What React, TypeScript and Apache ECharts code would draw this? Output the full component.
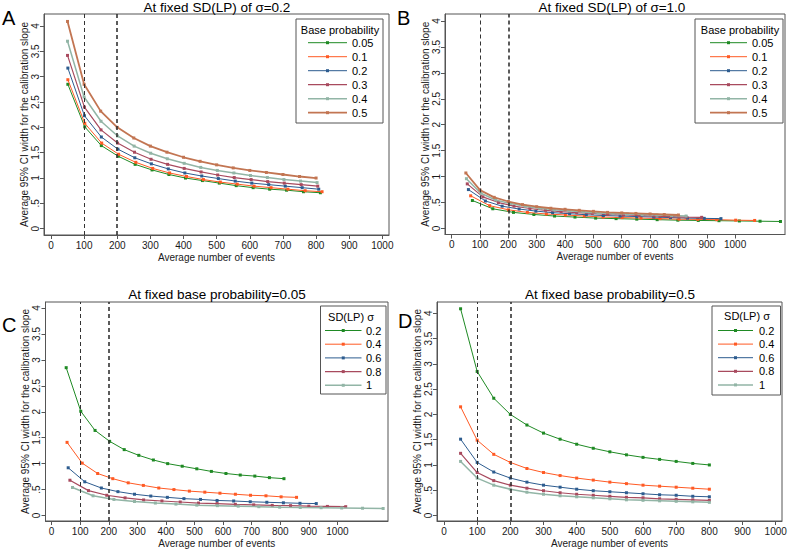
import React, { useEffect, useRef } from "react";
import * as echarts from "echarts";

// ---------- tick values ----------
const xTickValues = [0, 100, 200, 300, 400, 500, 600, 700, 800, 900, 1000];
const yTickValues = [0, 0.5, 1, 1.5, 2, 2.5, 3, 3.5, 4];

// ---------- legend categories ----------
const baseProbLabels = ["0.05", "0.1", "0.2", "0.3", "0.4", "0.5"];
const sdLabels = ["0.2", "0.4", "0.6", "0.8", "1"];

// ---------- average number of events (x values) ----------
// sigma = 0.2
const evS02P005 = [51, 102, 152, 203, 254, 305, 356, 406, 457, 508, 559, 610, 660, 711, 762, 813];
const evS02P01 = [51, 102, 153, 204, 256, 307, 358, 409, 460, 511, 562, 613, 664, 715, 767, 818];
const evS02P02 = [51, 101, 152, 202, 253, 303, 354, 404, 455, 505, 556, 606, 657, 707, 758, 808];
const evS02P03 = [50, 101, 151, 201, 252, 302, 352, 402, 453, 503, 553, 604, 654, 704, 755, 805];
const evS02P04 = [50, 100, 151, 201, 251, 301, 351, 402, 452, 502, 552, 602, 653, 703, 753, 803];
const evP05 = [50, 100, 150, 200, 250, 300, 350, 400, 450, 500, 550, 600, 650, 700, 750, 800];
// sigma = 1.0
const evS1P005 = [73, 145, 218, 290, 363, 435, 508, 580, 653, 725, 798, 870, 943, 1015, 1088, 1160];
const evS1P01 = [67, 134, 200, 267, 334, 401, 468, 534, 601, 668, 735, 802, 868, 935, 1002, 1069];
const evS1P02 = [59, 119, 178, 238, 297, 356, 416, 475, 535, 594, 653, 713, 772, 832, 891, 950];
const evS1P03 = [55, 110, 165, 220, 276, 331, 386, 441, 496, 551, 606, 661, 716, 771, 827, 882];
const evS1P04 = [52, 103, 155, 207, 259, 310, 362, 414, 465, 517, 569, 620, 672, 724, 776, 827];
// base probability 0.05, other sigmas
const evS04P005 = [54, 107, 161, 214, 268, 321, 375, 428, 482, 536, 589, 643, 696, 750, 803, 857];
const evS06P005 = [58, 116, 174, 232, 290, 347, 405, 463, 521, 579, 637, 695, 753, 811, 869, 926];
const evS08P005 = [64, 129, 193, 257, 322, 386, 450, 514, 579, 643, 707, 772, 836, 900, 965, 1029];

// ---------- average 95% CI width (y values) ----------
const wS02P005 = [2.85, 2.01, 1.64, 1.43, 1.27, 1.16, 1.07, 1.0, 0.95, 0.9, 0.85, 0.81, 0.78, 0.76, 0.73, 0.71];
const wS02P01 = [2.94, 2.08, 1.69, 1.47, 1.31, 1.19, 1.1, 1.03, 0.97, 0.92, 0.88, 0.84, 0.81, 0.78, 0.75, 0.73];
const wS02P02 = [3.17, 2.23, 1.81, 1.57, 1.4, 1.28, 1.18, 1.1, 1.04, 0.99, 0.94, 0.9, 0.87, 0.84, 0.81, 0.78];
const wS02P03 = [3.42, 2.4, 1.95, 1.69, 1.51, 1.37, 1.27, 1.19, 1.12, 1.06, 1.01, 0.97, 0.93, 0.9, 0.87, 0.84];
const wS02P04 = [3.7, 2.6, 2.12, 1.83, 1.63, 1.49, 1.38, 1.29, 1.21, 1.15, 1.1, 1.05, 1.01, 0.97, 0.94, 0.91];
const wS02P05 = [4.09, 2.85, 2.32, 2.0, 1.79, 1.63, 1.51, 1.41, 1.33, 1.26, 1.2, 1.15, 1.11, 1.07, 1.03, 1.0];

const wS1P005 = [0.54, 0.38, 0.31, 0.27, 0.24, 0.22, 0.2, 0.19, 0.18, 0.17, 0.16, 0.155, 0.15, 0.145, 0.14, 0.135];
const wS1P01 = [0.63, 0.44, 0.36, 0.31, 0.28, 0.26, 0.24, 0.22, 0.21, 0.2, 0.19, 0.18, 0.175, 0.17, 0.16, 0.155];
const wS1P02 = [0.75, 0.53, 0.43, 0.375, 0.335, 0.305, 0.285, 0.265, 0.25, 0.24, 0.23, 0.22, 0.21, 0.2, 0.195, 0.19];
const wS1P03 = [0.86, 0.61, 0.5, 0.43, 0.385, 0.35, 0.325, 0.305, 0.29, 0.27, 0.26, 0.25, 0.24, 0.23, 0.22, 0.215];
const wS1P04 = [0.96, 0.68, 0.55, 0.48, 0.43, 0.39, 0.36, 0.34, 0.32, 0.3, 0.29, 0.28, 0.27, 0.26, 0.25, 0.24];
const wS1P05 = [1.07, 0.74, 0.6, 0.52, 0.46, 0.42, 0.39, 0.37, 0.35, 0.33, 0.31, 0.3, 0.29, 0.28, 0.27, 0.26];

const wS04P005 = [1.41, 1.01, 0.81, 0.71, 0.63, 0.58, 0.53, 0.5, 0.47, 0.45, 0.43, 0.41, 0.39, 0.38, 0.36, 0.35];
const wS06P005 = [0.92, 0.65, 0.53, 0.46, 0.41, 0.375, 0.35, 0.325, 0.31, 0.29, 0.28, 0.265, 0.255, 0.245, 0.235, 0.23];
const wS08P005 = [0.68, 0.48, 0.39, 0.34, 0.3, 0.28, 0.26, 0.24, 0.23, 0.215, 0.205, 0.195, 0.19, 0.18, 0.175, 0.17];

const wS04P05 = [2.15, 1.49, 1.21, 1.05, 0.93, 0.85, 0.79, 0.74, 0.7, 0.66, 0.63, 0.6, 0.58, 0.56, 0.54, 0.52];
const wS06P05 = [1.51, 1.05, 0.86, 0.74, 0.66, 0.6, 0.56, 0.52, 0.49, 0.47, 0.45, 0.43, 0.41, 0.4, 0.38, 0.37];
const wS08P05 = [1.23, 0.85, 0.69, 0.6, 0.54, 0.49, 0.45, 0.42, 0.4, 0.38, 0.36, 0.35, 0.33, 0.32, 0.31, 0.3];

// ---------- panels ----------
const panelTitles = [
  "At fixed SD(LP) of σ=0.2",
  "At fixed SD(LP) of σ=1.0",
  "At fixed base probability=0.05",
  "At fixed base probability=0.5",
];
const panelLetters = ["A", "B", "C", "D"];
const legendTitles = ["Base probability", "Base probability", "SD(LP) σ", "SD(LP) σ"];

const panelSeries = [
  { labels: baseProbLabels, x: [evS02P005, evS02P01, evS02P02, evS02P03, evS02P04, evP05], y: [wS02P005, wS02P01, wS02P02, wS02P03, wS02P04, wS02P05] },
  { labels: baseProbLabels, x: [evS1P005, evS1P01, evS1P02, evS1P03, evS1P04, evP05], y: [wS1P005, wS1P01, wS1P02, wS1P03, wS1P04, wS1P05] },
  { labels: sdLabels, x: [evS02P005, evS04P005, evS06P005, evS08P005, evS1P005], y: [wS02P005, wS04P005, wS06P005, wS08P005, wS1P005] },
  { labels: sdLabels, x: [evP05, evP05, evP05, evP05, evP05], y: [wS02P05, wS04P05, wS06P05, wS08P05, wS1P05] },
];

// ---------- styling / layout ----------
const COLORS = ["#1f8a24", "#ff5a24", "#2d5c8f", "#a84a5e", "#92b5a6", "#c27552"];
const WIDTHS = [1, 1, 1, 1.2, 1.5, 1.8];
const FONT = "Liberation Sans";
const AXIS_COLOR = "#555";
const TEXT_COLOR = "#1a1a1a";

const layouts = [
  { grid: { left: 44, top: 14, width: 345, height: 221 }, xMin: -21, xMax: 1020, yMin: -0.124, yMax: 4.237,
    title: [217, 7], letter: [2, 18], legendBox: [296, 19, 87, 104], legendTitle: [340, 30], legendY0: 42.7, legendStep: 14, lineX: [308, 347], textX: 352 },
  { grid: { left: 445, top: 14, width: 340, height: 220.5 }, xMin: -23.6, xMax: 1176, yMin: -0.116, yMax: 4.135,
    title: [612, 7], letter: [397, 18], legendBox: [695, 19, 88, 104], legendTitle: [740, 30], legendY0: 42.7, legendStep: 14, lineX: [710, 747], textX: 752 },
  { grid: { left: 45.5, top: 302, width: 342.5, height: 219 }, xMin: -21.4, xMax: 1177, yMin: -0.106, yMax: 4.116,
    title: [217, 294], letter: [2, 325], legendBox: [320.5, 306, 65.5, 88], legendTitle: [351, 316.5], legendY0: 330.5, legendStep: 13.7, lineX: [325, 361.5], textX: 366 },
  { grid: { left: 437, top: 302, width: 345, height: 219 }, xMin: -21.1, xMax: 1019, yMin: -0.109, yMax: 4.224,
    title: [610, 294], letter: [398, 321], legendBox: [712, 306, 68.5, 89], legendTitle: [747, 316], legendY0: 330.5, legendStep: 13.6, lineX: [718, 753], textX: 759 },
];

const yLabelFmt = (v: number) => (v === 0 ? "0" : v < 1 ? String(v).replace(/^0/, "") : String(v));
const xLabelFmt = (v: number) => String(v);

function txt(text: string, x: number, y: number, size: number, align: string, z = 11) {
  return {
    type: "text", x, y, z,
    style: { text, fill: "#000", fontSize: size, fontFamily: FONT, fontWeight: "normal", align, verticalAlign: "middle" },
  };
}

function buildOption() {
  const grid: any[] = [];
  const xAxis: any[] = [];
  const yAxis: any[] = [];
  const series: any[] = [];
  const graphic: any[] = [];

  layouts.forEach((L, p) => {
    grid.push({ ...L.grid, show: true, borderColor: AXIS_COLOR, borderWidth: 1, backgroundColor: "#fff" });
    xAxis.push({
      gridIndex: p, type: "value", min: L.xMin, max: L.xMax,
      axisLine: { show: true, onZero: false, lineStyle: { color: AXIS_COLOR, width: 1 } },
      axisTick: { show: true, length: 4, customValues: xTickValues, lineStyle: { color: AXIS_COLOR } },
      axisLabel: { customValues: xTickValues, fontSize: 10, color: TEXT_COLOR, margin: 5, fontFamily: FONT, formatter: xLabelFmt },
      splitLine: { show: false },
      name: "Average number of events", nameLocation: "middle", nameGap: 17,
      nameTextStyle: { fontSize: 10, color: TEXT_COLOR, fontFamily: FONT },
    });
    yAxis.push({
      gridIndex: p, type: "value", min: L.yMin, max: L.yMax,
      axisLine: { show: true, onZero: false, lineStyle: { color: AXIS_COLOR, width: 1 } },
      axisTick: { show: true, length: 4, customValues: yTickValues, lineStyle: { color: AXIS_COLOR } },
      axisLabel: { customValues: yTickValues, rotate: 90, fontSize: 10, color: TEXT_COLOR, margin: 4, fontFamily: FONT, formatter: yLabelFmt },
      splitLine: { show: false },
      name: "Average 95% CI width for the calibration slope", nameLocation: "middle", nameRotate: 90, nameGap: 15,
      nameTextStyle: { fontSize: 10, color: TEXT_COLOR, fontFamily: FONT },
    });

    const S = panelSeries[p];
    S.labels.forEach((lab, i) => {
      const s: any = {
        type: "line", name: panelLetters[p] + "|" + lab, xAxisIndex: p, yAxisIndex: p,
        data: S.x[i].map((xv, k) => [xv, S.y[i][k]]),
        symbol: "rect", symbolSize: 3, showSymbol: true,
        lineStyle: { color: COLORS[i], width: WIDTHS[i] },
        itemStyle: { color: COLORS[i] },
        silent: true, z: 2 + i * 0.01,
      };
      if (i === 0) {
        s.markLine = {
          silent: true, symbol: ["none", "none"], label: { show: false },
          lineStyle: { color: "#333", type: [4, 3], width: 1 },
          data: [{ xAxis: 100 }, { xAxis: 200, lineStyle: { color: "#333", type: [4, 3], width: 1.6 } }],
        };
      }
      series.push(s);
    });

    graphic.push(txt(panelTitles[p], L.title[0], L.title[1], 13.5, "center", 10));
    graphic.push(txt(panelLetters[p], L.letter[0], L.letter[1], 20, "left", 10));

    // legend
    const [bx, by, bw, bh] = L.legendBox;
    graphic.push({ type: "rect", z: 10, shape: { x: bx, y: by, width: bw, height: bh },
      style: { fill: "#fff", stroke: AXIS_COLOR, lineWidth: 1 } });
    graphic.push(txt(legendTitles[p], L.legendTitle[0], L.legendTitle[1], 11, "center"));
    S.labels.forEach((lab, i) => {
      const yy = L.legendY0 + i * L.legendStep;
      const mid = (L.lineX[0] + L.lineX[1]) / 2;
      graphic.push({ type: "line", z: 11, shape: { x1: L.lineX[0], y1: yy, x2: L.lineX[1], y2: yy },
        style: { stroke: COLORS[i], lineWidth: WIDTHS[i] } });
      graphic.push({ type: "rect", z: 12, shape: { x: mid - 1.5, y: yy - 1.5, width: 3, height: 3 },
        style: { fill: COLORS[i] } });
      graphic.push(txt(lab, L.textX, yy, 11, "left"));
    });
  });

  return { animation: false, backgroundColor: "#fff", textStyle: { fontFamily: FONT }, grid, xAxis, yAxis, series, graphic };
}

export default function App() {
  const ref = useRef<HTMLDivElement>(null);
  useEffect(() => {
    document.body.style.margin = "0";
    if (!ref.current) return;
    const chart = echarts.init(ref.current, undefined, { renderer: "svg" });
    chart.setOption(buildOption() as any);
    return () => chart.dispose();
  }, []);
  return <div ref={ref} style={{ width: 791, height: 550 }} />;
}
